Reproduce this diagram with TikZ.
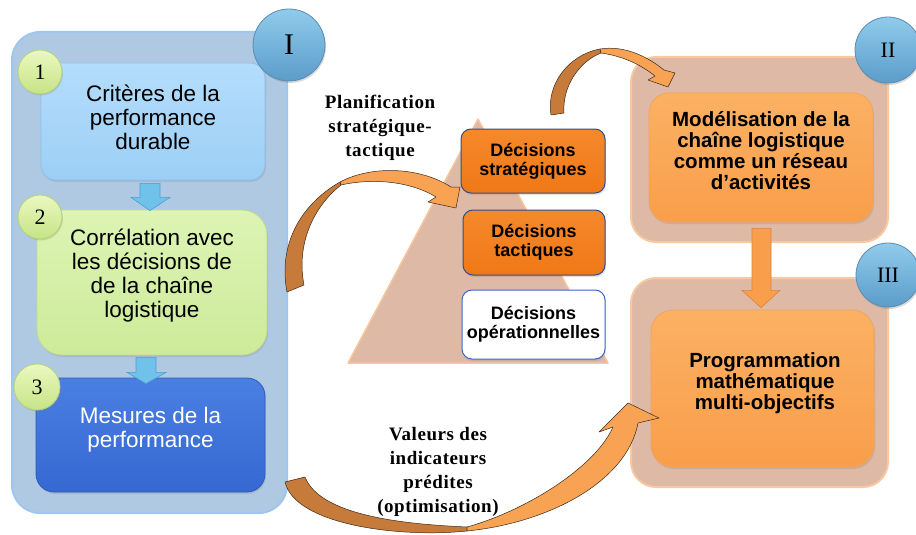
\documentclass[tikz,border=0pt]{standalone}
\usepackage{fontspec}
\setmainfont{Liberation Serif}
\newfontfamily\arialf{Liberation Sans}
\usetikzlibrary{calc,shadows}
\definecolor{panelblue}{HTML}{B0C9E3}
\definecolor{panelblueborder}{HTML}{9EC6EF}
\definecolor{boxonetop}{HTML}{B4DDFB}
\definecolor{boxonebot}{HTML}{9CCFF6}
\definecolor{boxoneborder}{HTML}{8CC0E8}
\definecolor{boxtwotop}{HTML}{DDF4B4}
\definecolor{boxtwobot}{HTML}{CDEB9A}
\definecolor{boxtwoborder}{HTML}{BDDB8A}
\definecolor{boxthreetop}{HTML}{4A7FE2}
\definecolor{boxthreebot}{HTML}{3568D2}
\definecolor{boxthreeborder}{HTML}{2D5BB8}
\definecolor{smallcirctop}{HTML}{EAF8C0}
\definecolor{smallcircbot}{HTML}{C6E486}
\definecolor{smallcircborder}{HTML}{B4D27A}
\definecolor{bigcirctop}{HTML}{90CBEB}
\definecolor{bigcircbot}{HTML}{5B9CC9}
\definecolor{bigcircborder}{HTML}{5A8DB5}
\definecolor{bluearrow}{HTML}{70C2EB}
\definecolor{bluearrowborder}{HTML}{4A9ED2}
\definecolor{pyramid}{HTML}{DDB9A6}
\definecolor{pyramidborder}{HTML}{F7C69C}
\definecolor{decorange}{HTML}{F07816}
\definecolor{decorangetop}{HTML}{F5892C}
\definecolor{decborder}{HTML}{2F4E8C}
\definecolor{opsborder}{HTML}{3A66C4}
\definecolor{panelrose}{HTML}{DDB9A6}
\definecolor{panelroseborder}{HTML}{F8C9A0}
\definecolor{softorange}{HTML}{F99E4B}
\definecolor{softorangetop}{HTML}{FBB163}
\definecolor{softorangeborder}{HTML}{F2A45C}
\definecolor{arrdark}{HTML}{C77B3B}
\definecolor{arrlight}{HTML}{F8A254}
\definecolor{arredge}{HTML}{3A2A1A}
\definecolor{softorangearrowborder}{HTML}{D98442}
\tikzset{
  panel/.style={rounded corners=28pt, line width=2pt, inner sep=0pt},
  box/.style={inner sep=0pt, line width=0.8pt, drop shadow={shadow xshift=1pt,shadow yshift=-2pt,opacity=0.22}},
  smallcirc/.style={circle, inner sep=0pt, top color=smallcirctop, bottom color=smallcircbot, draw=smallcircborder, line width=0.8pt, font=\fontsize{22}{24}\selectfont, drop shadow={shadow xshift=1pt,shadow yshift=-1.5pt,opacity=0.25}},
  bigcirc/.style={circle, inner sep=0pt, top color=bigcirctop, bottom color=bigcircbot, draw=bigcircborder, line width=0.8pt, drop shadow={shadow xshift=1pt,shadow yshift=-2pt,opacity=0.3}},
  lefttext/.style={align=center, font=\arialf\fontsize{22.5}{24}\selectfont, inner sep=0pt},
  decbox/.style={box, rounded corners=10pt, draw=decborder, top color=decorangetop, bottom color=decorange, line width=1pt, align=center, font=\arialf\bfseries\fontsize{18}{19}\selectfont},
  righttext/.style={align=center, font=\arialf\bfseries\fontsize{20.5}{21}\selectfont, inner sep=0pt},
  seriflabel/.style={align=center, inner sep=0pt, font=\addfontfeature{LetterSpace=3}\bfseries\fontsize{19}{24}\selectfont},
  barrow/.style={fill=bluearrow, draw=bluearrowborder, line width=0.6pt},
  oarrow/.style={fill=softorange, draw=softorangearrowborder, line width=0.6pt},
  ribbondark/.style={fill=arrdark, draw=arredge, line width=0.5pt, line join=round},
  ribbonlight/.style={fill=arrlight, draw=arredge, line width=0.5pt, line join=round}
}
\begin{document}
\begin{tikzpicture}[x=1pt,y=-1pt]
\useasboundingbox (0,0) rectangle (916,535);

% ---------- Panel I ----------
\node[panel, fill=panelblue, draw=panelblueborder, minimum width=275pt, minimum height=481pt] (pI) at (149.5,272.5) {};

\node[box, rounded corners=15pt, top color=boxonetop, bottom color=boxonebot, draw=boxoneborder, minimum width=224pt, minimum height=117pt] (b1) at (153,121.5) {};
\node[lefttext] (t1) at (153,117) {Critères de la\\performance\\durable};

\node[box, rounded corners=25pt, top color=boxtwotop, bottom color=boxtwobot, draw=boxtwoborder, minimum width=230pt, minimum height=145pt] (b2) at (152,282.5) {};
\node[lefttext] (t2) at (152,276) {Corrélation avec\\les décisions de\\de la chaîne\\logistique};

\node[box, rounded corners=18pt, top color=boxthreetop, bottom color=boxthreebot, draw=boxthreeborder, minimum width=229pt, minimum height=114pt] (b3) at (150.5,435) {};
\node[lefttext, text=white] (t3) at (150.5,430) {Mesures de la\\performance};

% block arrows in panel I
\draw[barrow] ($(b1.south)+(-13,3)$) coordinate (a1) -- ++(20,0) -- ++(0,14) -- ++(10,0) -- ($(b2.north)+(-2,1)$) -- ($(a1)+(-9,14)$) -- ($(a1)+(0,14)$) -- cycle;
\draw[barrow] ($(b2.south)+(-16,2)$) coordinate (a2) -- ++(20,0) -- ++(0,15) -- ++(10,0) -- ($(b3.north)+(-4.5,6)$) -- ($(a2)+(-9,15)$) -- ($(a2)+(0,15)$) -- cycle;

\node[smallcirc, minimum size=44pt] (c1) at (40,72) {1};
\node[smallcirc, minimum size=44pt] (c2) at (40,217) {2};
\node[smallcirc, minimum size=46pt] (c3) at (37,387) {3};
\node[bigcirc, minimum size=72pt, font=\fontsize{30}{32}\selectfont] (cI) at (289,45) {I};

% ---------- Pyramid ----------
\coordinate (pyl) at (348,363);
\coordinate (pyr) at (608,363);
\coordinate (pyt) at (478,119);
\draw[fill=pyramid, draw=pyramidborder, line width=1.5pt, line join=round] (pyl) -- (pyr) -- (pyt) -- cycle;

\node[seriflabel] (plan) at (380,128) {Planification\\stratégique-\\tactique};

% ---------- Panels II and III ----------
\node[panel, rounded corners=25pt, fill=panelrose, draw=panelroseborder, minimum width=257pt, minimum height=185pt] (pII) at (759.5,149.5) {};
\node[box, rounded corners=20pt, top color=softorangetop, bottom color=softorange, draw=softorangeborder, minimum width=224pt, minimum height=129pt] (m) at (761,157.5) {};
\node[righttext] (mt) at (761,151) {Modélisation de la\\chaîne logistique\\comme un réseau\\d’activités};

\node[panel, rounded corners=25pt, fill=panelrose, draw=panelroseborder, minimum width=257pt, minimum height=209pt] (pIII) at (759.5,382.5) {};
\node[box, rounded corners=22pt, top color=softorangetop, bottom color=softorange, draw=softorangeborder, minimum width=223pt, minimum height=157pt] (p) at (762.5,388.5) {};
\node[righttext] (pt) at (765,383) {Programmation\\mathématique\\multi-objectifs};

\draw[oarrow] ($(m.south)+(-9,6)$) coordinate (a3) -- ++(19,0) -- ++(0,62) -- ++(9,0) -- ($(p.north)+(-1.5,-2)$) -- ($(a3)+(-10,62)$) -- ($(a3)+(0,62)$) -- cycle;

\node[bigcirc, minimum size=66pt, font=\fontsize{22}{24}\selectfont] (cII) at (888,50) {II};
\node[bigcirc, minimum size=64pt, font=\fontsize{22}{24}\selectfont] (cIII) at (888,275) {III};

% ---------- Decision boxes ----------
\node[decbox, minimum width=144pt, minimum height=64pt] (ds) at (533,161) {Décisions\\stratégiques};
\node[decbox, minimum width=142pt, minimum height=65pt] (dt) at (534,242.5) {Décisions\\tactiques};
\node[decbox, fill=white, top color=white, bottom color=white, draw=opsborder, minimum width=143pt, minimum height=69pt] (do) at (533.5,324.5) {Décisions\\opérationnelles};

\node[seriflabel] (val) at (438,472) {Valeurs des\\indicateurs\\prédites\\(optimisation)};

% ---------- Curved ribbon arrows ----------
% A : from panel I to strategic decisions
\draw[ribbondark] (287,292) .. controls (278,245) and (300,205) .. (340,182) -- (341,185) .. controls (313,207) and (296,245) .. (304,285) -- cycle;
\draw[ribbonlight] (340,182) .. controls (372,165) and (420,167) .. (451,187) -- (460,187) -- (456,208) -- (428,202) -- (436,197) .. controls (410,181) and (372,178) .. (341,185) -- cycle;
% B : from strategic decisions to panel II
\draw[ribbondark] (551,115) .. controls (546,85) and (568,55) .. (600,49) -- (601,53) .. controls (578,62) and (562,88) .. (564,113) -- cycle;
\draw[ribbonlight] (600,49) .. controls (625,45) and (648,57) .. (664,70) -- (675,73) -- (668,87) -- (648,80) -- (655,76) .. controls (640,64) and (622,56) .. (601,53) -- cycle;
% C : from panel I to panel III
\draw[ribbondark] (285,482) .. controls (295,525) and (400,538) .. (467,531) -- (467,527) .. controls (400,524) and (320,515) .. (305,477) -- cycle;
\draw[ribbonlight] (467,531) .. controls (548,523) and (627,482) .. (638,423) -- (659,418) -- (628,403) -- (599,432) -- (613,427) .. controls (596,466) and (528,510) .. (467,527) -- cycle;
\end{tikzpicture}
\end{document}
